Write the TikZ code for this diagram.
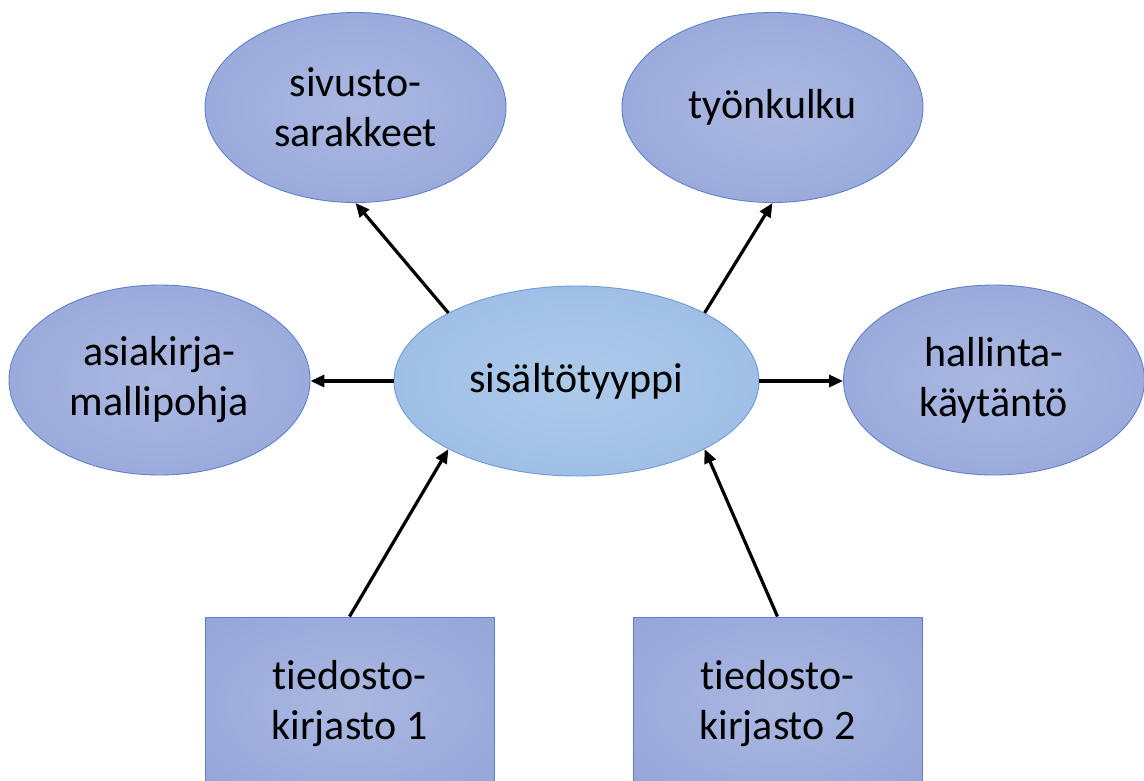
\documentclass[tikz,border=0pt]{standalone}
\usepackage{fontspec}
\setmainfont{Carlito}[RawFeature={-liga;-clig}]
\usetikzlibrary{shapes.geometric,arrows.meta,calc}
\definecolor{pin}{HTML}{AAB8E1}
\definecolor{pout}{HTML}{8B9DD5}
\definecolor{pedge}{HTML}{5F80CB}
\definecolor{cin}{HTML}{AECAEA}
\definecolor{cout}{HTML}{90B4E1}
\definecolor{cedge}{HTML}{6C9BD9}
\pgfdeclareradialshading{pshade}{\pgfpoint{0bp}{0bp}}{color(0bp)=(pin);color(50bp)=(pout);color(72bp)=(pout)}
\pgfdeclareradialshading{cshade}{\pgfpoint{0bp}{0bp}}{color(0bp)=(cin);color(50bp)=(cout);color(72bp)=(cout)}
\tikzset{
  txt/.style={font=\fontsize{42}{50}\selectfont, text=black, align=center, inner sep=0pt},
  blob/.style={txt, ellipse, shading=pshade, draw=pedge, line width=0.9pt, minimum width=301pt, minimum height=190pt},
  core/.style={txt, ellipse, shading=cshade, draw=cedge, line width=0.9pt, minimum width=365pt, minimum height=190pt},
  libbox/.style={txt, rectangle, shading=pshade, draw=pedge, line width=0.9pt, minimum width=289pt, minimum height=174pt},
  arr/.style={-{Triangle[length=14pt,width=12pt]}, line width=3.2pt, black}
}
\begin{document}
\begin{tikzpicture}[x=1pt,y=-1pt]
\useasboundingbox (0,0) rectangle (1144,780);
\clip (0,0) rectangle (1144,780);
\fill[white] (0,0) rectangle (1144,780);
\node[blob] (tl) at (355.5,107.5) {sivusto-\\sarakkeet};
\node[blob] (tr) at (772.5,107.5) {työnkulku};
\node[blob] (l) at (159.5,380) {asiakirja-\\mallipohja};
\node[blob] (r) at (994,380) {hallinta-\\käytäntö};
\node[core] (c) at (576.5,381) {sisältötyyppi};
\node[libbox] (b1) at (349.5,704) {tiedosto-\\kirjasto 1};
\node[libbox] (b2) at (777.5,704) {tiedosto-\\kirjasto 2};
\draw[arr] (c.152) -- (tl.south);
\draw[arr] (c.28) -- (tr.south);
\draw[arr] (c.west) -- (c.west -| l.east);
\draw[arr] (c.east) -- (c.east -| r.west);
\draw[arr] (b1.north) -- (c.208);
\draw[arr] (b2.north) -- (c.332);
\end{tikzpicture}
\end{document}
